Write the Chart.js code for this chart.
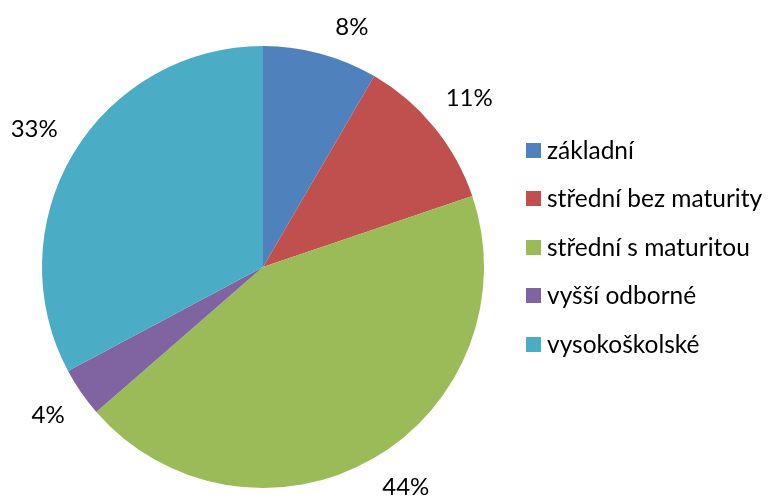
<!DOCTYPE html>
<html>
<head>
<meta charset="utf-8">
<script src="https://cdn.jsdelivr.net/npm/chart.js@4.4.1/dist/chart.umd.min.js"></script>
<style>
  html, body { margin: 0; padding: 0; background: #fff; }
  #wrap { width: 770px; height: 500px; }
</style>
</head>
<body>
<div id="wrap"><canvas id="pie" width="770" height="500"></canvas></div>
<script>
// values (percent of total)
const categories = ['základní', 'střední bez maturity', 'střední s maturitou', 'vyšší odborné', 'vysokoškolské'];
const shares = [8.4, 11.4, 43.8, 3.6, 32.8];
const sliceColors = ['#4F81BD', '#C0504D', '#9BBB59', '#8064A2', '#4BACC6'];

const FONT = "Lato, 'Liberation Sans', sans-serif";

// percentage labels outside each slice, kept inside the canvas like Excel does
const outsideLabels = {
    id: 'outsideLabels',
    afterDatasetsDraw(chart) {
        const ctx = chart.ctx;
        const meta = chart.getDatasetMeta(0);
        const yMin = 27, yMax = 487;
        ctx.save();
        ctx.font = '24px ' + FONT;
        ctx.fillStyle = '#000';
        ctx.textAlign = 'center';
        ctx.textBaseline = 'middle';
        meta.data.forEach((arc, i) => {
            const p = arc.getProps(['x', 'y', 'startAngle', 'endAngle', 'outerRadius'], true);
            const mid = (p.startAngle + p.endAngle) / 2;
            const txt = Math.round(shares[i]) + '%';
            const w = ctx.measureText(txt).width;
            const h = 22;
            const dist = p.outerRadius + 20 + Math.abs(Math.cos(mid)) * w / 2 + Math.abs(Math.sin(mid)) * h / 2;
            let lx = p.x + Math.cos(mid) * dist;
            let ly = p.y + Math.sin(mid) * dist;
            // slide along the circle when the label would leave the canvas
            if (ly < yMin || ly > yMax) {
                ly = ly < yMin ? yMin : yMax;
                const dy = ly - p.y;
                const dx = Math.sqrt(Math.max(dist * dist - dy * dy, 0));
                lx = p.x + (Math.cos(mid) >= 0 ? dx : -dx);
            }
            ctx.fillText(txt, lx, ly);
        });
        ctx.restore();
    }
};

// legend on the right, Excel style
const sideLegend = {
    id: 'sideLegend',
    afterDraw(chart) {
        const ctx = chart.ctx;
        const x0 = 526, y0 = 149.5, step = 48.6, box = 15;
        ctx.save();
        ctx.font = '24.5px ' + FONT;
        ctx.textBaseline = 'middle';
        ctx.textAlign = 'left';
        categories.forEach((name, i) => {
            const y = Math.round(y0 + i * step);
            ctx.fillStyle = sliceColors[i];
            ctx.fillRect(x0, y - 7, box, box);
            ctx.fillStyle = '#000';
            ctx.fillText(name, x0 + 21, y + 1);
        });
        ctx.restore();
    }
};

new Chart(document.getElementById('pie'), {
    type: 'pie',
    data: {
        labels: categories,
        datasets: [{
            data: shares,
            backgroundColor: sliceColors,
            borderWidth: 0
        }]
    },
    options: {
        responsive: false,
        animation: false,
        layout: { padding: { left: 42, right: 286, top: 46, bottom: 12 } },
        plugins: {
            legend: { display: false },
            tooltip: { enabled: false }
        }
    },
    plugins: [outsideLabels, sideLegend]
});
</script>
</body>
</html>
